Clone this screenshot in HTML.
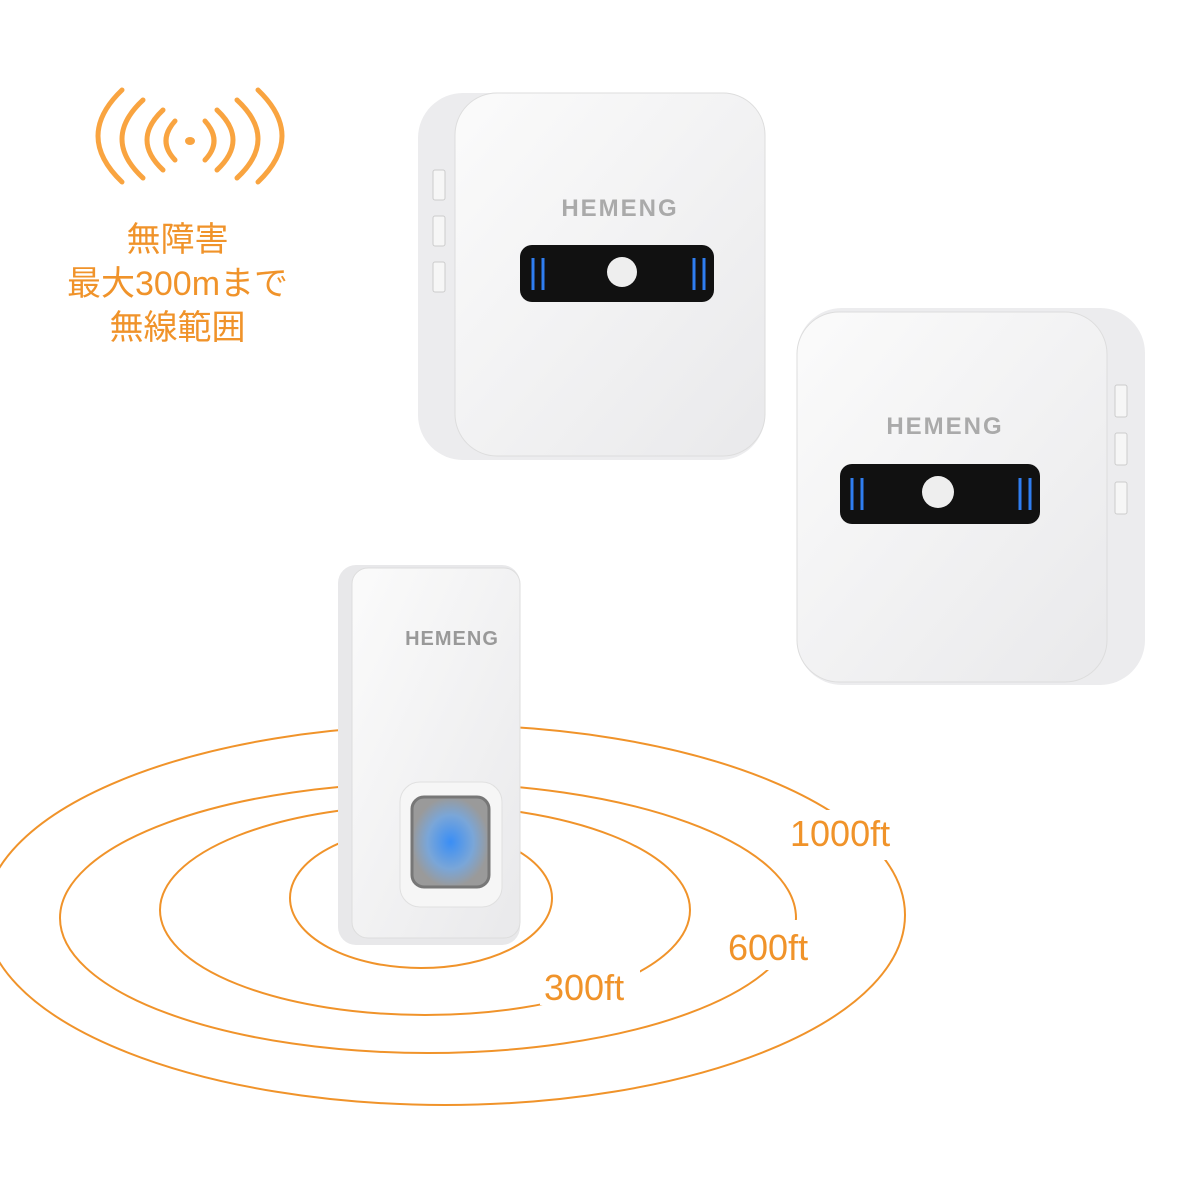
<!DOCTYPE html>
<html><head><meta charset="utf-8"><style>
body{margin:0;background:#fff;width:1200px;height:1200px;overflow:hidden;position:relative;font-family:"Liberation Sans","Noto Sans CJK JP",sans-serif}
.t{position:absolute;color:#f0932a;font-size:34px;text-align:center;line-height:44px}
</style></head><body>
<svg width="1200" height="1200" style="position:absolute;left:0;top:0">
<defs>
<linearGradient id="g1" x1="0" y1="0" x2="1" y2="1"><stop offset="0" stop-color="#fbfbfb"/><stop offset="1" stop-color="#e9e9eb"/></linearGradient>
<radialGradient id="bl"><stop offset="0" stop-color="#3a8ef5"/><stop offset="0.6" stop-color="#7aa6d8"/><stop offset="1" stop-color="#9a9a9a"/></radialGradient>
</defs>
<g fill="none" stroke="#f9a440" stroke-width="5" stroke-linecap="round">
<path d="M122 90 Q74 136 122 182"/><path d="M143 100 Q101 139 143 178"/><path d="M163 110 Q131 140 163 170"/><path d="M175 121 Q157 141 175 160"/>
<path d="M258 90 Q306 136 258 182"/><path d="M237 100 Q279 139 237 178"/><path d="M217 110 Q249 140 217 170"/><path d="M205 121 Q223 141 205 160"/>
</g>
<ellipse cx="190" cy="141" rx="5" ry="4" fill="#f9a440"/>
<g fill="none" stroke="#f0932a" stroke-width="2">
<ellipse cx="421" cy="898" rx="131" ry="70"/>
<ellipse cx="425" cy="910" rx="265" ry="105"/>
<ellipse cx="428" cy="918" rx="368" ry="135"/>
<ellipse cx="445" cy="915" rx="460" ry="190"/>
</g>
<rect x="540" y="960" width="100" height="45" fill="#fff"/>
<rect x="725" y="920" width="100" height="50" fill="#fff"/>
<rect x="790" y="810" width="120" height="50" fill="#fff"/>
<rect x="338" y="565" width="182" height="380" rx="18" fill="#e8e8ea"/>
<rect x="352" y="568" width="168" height="370" rx="16" fill="url(#g1)" stroke="#ddd"/>
<rect x="400" y="782" width="102" height="125" rx="20" fill="#f6f6f6" stroke="#e0e0e0"/>
<rect x="412" y="797" width="77" height="90" rx="12" fill="url(#bl)" stroke="#777" stroke-width="3"/>
<text x="452" y="645" font-size="20" font-weight="bold" fill="#999" text-anchor="middle" letter-spacing="1">HEMENG</text>
<rect x="418" y="93" width="347" height="367" rx="45" fill="#ececee"/>
<rect x="455" y="93" width="310" height="363" rx="42" fill="url(#g1)" stroke="#ddd"/>
<rect x="433" y="170" width="12" height="30" rx="2" fill="#f6f6f6" stroke="#ccc"/>
<rect x="433" y="216" width="12" height="30" rx="2" fill="#f6f6f6" stroke="#ccc"/>
<rect x="433" y="262" width="12" height="30" rx="2" fill="#f6f6f6" stroke="#ccc"/>
<text x="620" y="216" font-size="24" font-weight="bold" fill="#aaa" text-anchor="middle" letter-spacing="2">HEMENG</text>
<rect x="520" y="245" width="194" height="57" rx="12" fill="#111"/>
<circle cx="622" cy="272" r="15" fill="#eee"/>
<g stroke="#2f7df0" stroke-width="3"><line x1="533" y1="258" x2="533" y2="290"/><line x1="543" y1="258" x2="543" y2="290"/><line x1="694" y1="258" x2="694" y2="290"/><line x1="704" y1="258" x2="704" y2="290"/></g>
<rect x="797" y="308" width="348" height="377" rx="45" fill="#ececee"/>
<rect x="797" y="312" width="310" height="370" rx="42" fill="url(#g1)" stroke="#ddd"/>
<rect x="1115" y="385" width="12" height="32" rx="2" fill="#f6f6f6" stroke="#ccc"/>
<rect x="1115" y="433" width="12" height="32" rx="2" fill="#f6f6f6" stroke="#ccc"/>
<rect x="1115" y="482" width="12" height="32" rx="2" fill="#f6f6f6" stroke="#ccc"/>
<text x="945" y="434" font-size="24" font-weight="bold" fill="#aaa" text-anchor="middle" letter-spacing="2">HEMENG</text>
<rect x="840" y="464" width="200" height="60" rx="12" fill="#111"/>
<circle cx="938" cy="492" r="16" fill="#eee"/>
<g stroke="#2f7df0" stroke-width="3"><line x1="852" y1="478" x2="852" y2="510"/><line x1="862" y1="478" x2="862" y2="510"/><line x1="1020" y1="478" x2="1020" y2="510"/><line x1="1030" y1="478" x2="1030" y2="510"/></g>
</svg>
<div class="t" style="left:40px;top:218px;width:275px">無障害<br>最大300mまで<br>無線範囲</div>
<div class="t" style="left:790px;top:812px;font-size:36px">1000ft</div>
<div class="t" style="left:728px;top:926px;font-size:36px">600ft</div>
<div class="t" style="left:544px;top:966px;font-size:36px">300ft</div>
</body></html>
